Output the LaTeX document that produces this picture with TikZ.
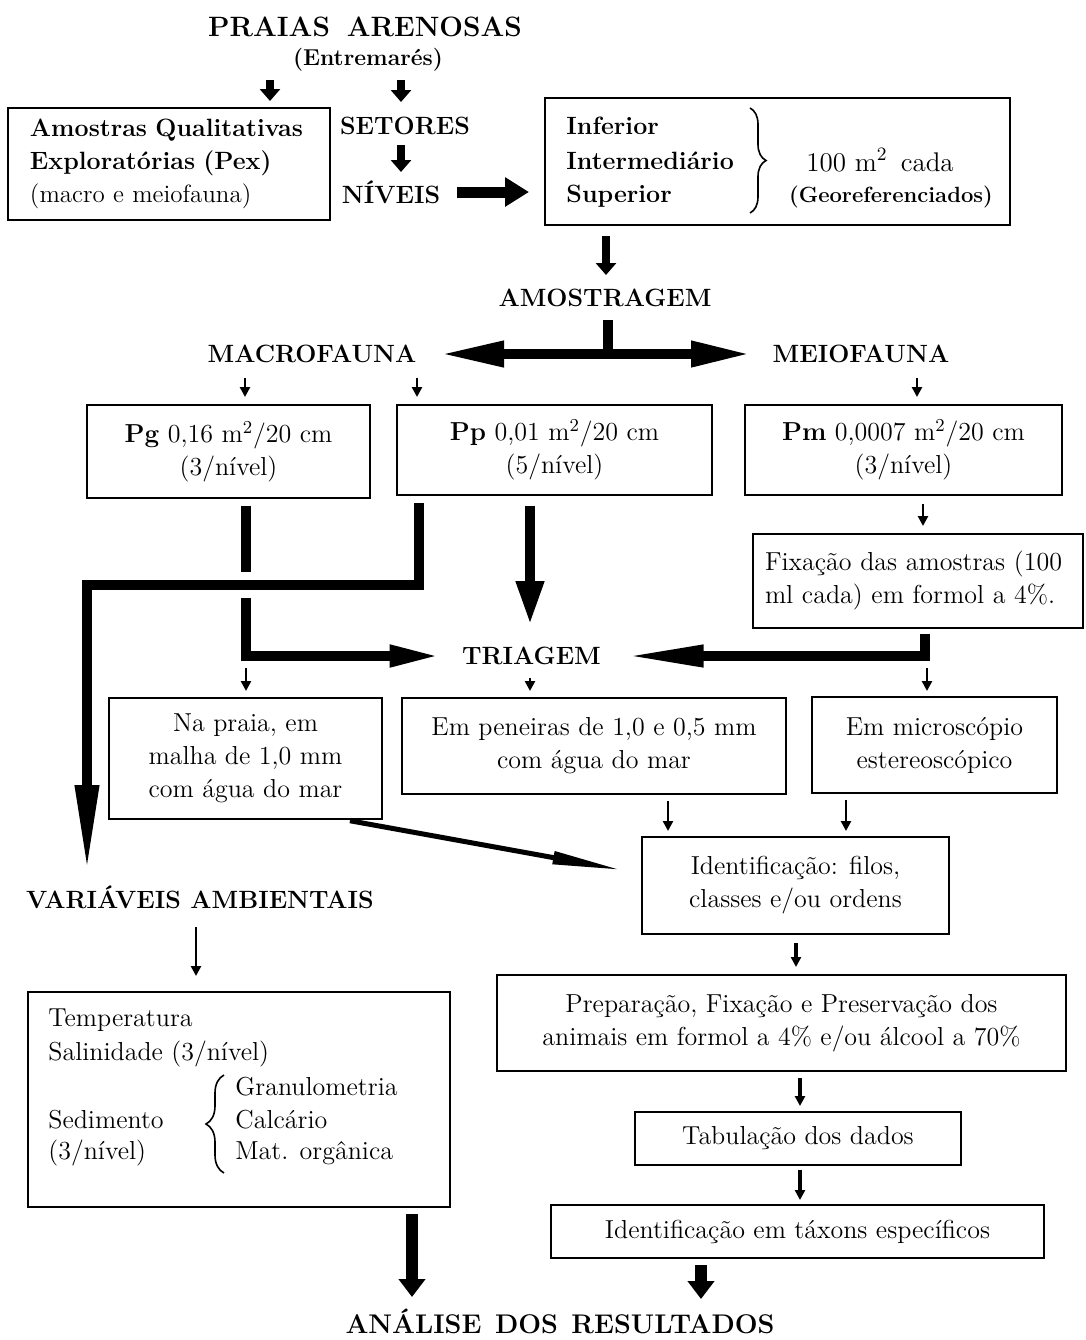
\documentclass[tikz,border=0pt]{standalone}
\usepackage{tikz}
\usetikzlibrary{arrows.meta,positioning,calc,decorations.pathreplacing}
\newcommand{\corpo}{\fontsize{13}{16.5}\selectfont}
\newcommand{\cabeca}{\fontsize{12.5}{15}\selectfont\bfseries}
\newcommand{\grande}{\fontsize{13.5}{16}\selectfont\bfseries}

\tikzset{
  caixa/.style={draw, line width=1pt, align=center, font=\corpo, inner sep=0pt},
  rotulo/.style={font=\cabeca, inner sep=0pt},
  texto/.style={font=\corpo, inner sep=0pt, anchor=west},
  fina/.style={line width=1.3pt, -{Triangle[length=5pt,width=5pt]}},
  bloco/.style={line width=4pt, -{Triangle[length=6pt,width=10pt]}},
  grossa/.style={line width=5pt, line join=miter, -{Triangle[length=26pt,width=10pt]}},
  chave/.style={decorate, decoration={brace, amplitude=#1}, line width=0.8pt},
}

\begin{document}
\begin{tikzpicture}[x=0.5pt, y=-0.5pt]
\useasboundingbox (0,0) rectangle (1086,1340);
%%% Praias, setores e niveis
\node[rotulo, font=\fontsize{14}{16}\selectfont\bfseries] (praias) at (365,27) {PRAIAS\hspace{0.6em}ARENOSAS};
\node[rotulo, font=\fontsize{11.5}{14}\selectfont\bfseries] (entre) at (368,60) {(Entremarés)};
\node[caixa, font=\fontsize{12.5}{16.5}\selectfont, text width=139pt, align=left, inner xsep=11pt, minimum height=56pt] (pex) at (169,164)
  {\textbf{Amostras Qualitativas}\\ \textbf{Exploratórias (Pex)}\\ (macro e meiofauna)};
\node[rotulo] (setores) at (405,126) {SETORES};
\node[rotulo] (niveis) at (391,192) {NÍVEIS};
\node[caixa, minimum width=232.5pt, minimum height=63.5pt] (nivbox) at (777.5,161.5) {};
\node[texto, font=\fontsize{12.5}{15}\selectfont\bfseries] (inf) at (566,126) {Inferior};
\node[texto, font=\fontsize{12.5}{15}\selectfont\bfseries] (inter) at (566,161) {Intermediário};
\node[texto, font=\fontsize{12.5}{15}\selectfont\bfseries] (sup) at (566,196) {Superior};
\coordinate (chsup) at (750,108);
\coordinate (chinf) at (750,213);
\draw[chave=8pt] (chsup) -- (chinf);
\node[font=\fontsize{13.5}{16}\selectfont, inner sep=0pt] (area) at (880,160) {100 m\textsuperscript{2}\, cada};
\node[font=\fontsize{11}{13}\selectfont\bfseries, inner sep=0pt] (geo) at (891,197) {(Georeferenciados)};
%
\draw[bloco, shorten <=10pt, shorten >=3pt] (entre -| 270,0) -- (pex.north -| 270,0);
\draw[bloco, shorten <=10pt, shorten >=12pt] (entre -| 401,0) -- (setores -| 401,0);
\draw[bloco, shorten <=9.5pt, shorten >=10pt] (setores -| 401,0) -- (niveis -| 401,0);
\draw[line width=5.5pt, -{Triangle[length=12pt,width=14pt]}, shorten <=8pt, shorten >=7.5pt] (niveis.east) -- (nivbox.west |- niveis.east);
%%% Amostragem
\node[rotulo] (amost) at (605,298) {AMOSTRAGEM};
\node[rotulo] (macro) at (312,354) {MACROFAUNA};
\node[rotulo] (meio) at (861,354) {MEIOFAUNA};
\draw[bloco, shorten <=5pt, shorten >=11.5pt] (nivbox.south -| 606,0) -- (amost -| 606,0);
\draw[line width=5pt, shorten <=11pt] (amost -| 608,0) -- (macro -| 608,0);
\draw[line width=5pt, {Triangle[length=32pt,width=12pt]}-{Triangle[length=30pt,width=12pt]},
  shorten <=64pt, shorten >=55pt] (macro.center) -- (meio.center);
%%% Amostradores
\node[caixa, minimum width=141.5pt, minimum height=46.5pt] (pg) at (228.5,451.5) {\textbf{Pg} 0,16 m\textsuperscript{2}/20 cm\\(3/nível)};
\node[caixa, minimum width=157.5pt, minimum height=45pt] (pp) at (554.5,450) {\textbf{Pp} 0,01 m\textsuperscript{2}/20 cm\\(5/nível)};
\node[caixa, minimum width=158.5pt, minimum height=45pt] (pm) at (903.5,450) {\textbf{Pm} 0,0007 m\textsuperscript{2}/20 cm\\(3/nível)};
\draw[fina, shorten <=12pt, shorten >=3.5pt] (macro -| 245,0) -- (pg.north -| 245,0);
\draw[fina, shorten <=12pt, shorten >=3.5pt] (macro -| 417,0) -- (pp.north -| 417,0);
\draw[fina, shorten <=12pt, shorten >=3.5pt] (meio -| 917,0) -- (pm.north -| 917,0);
\node[caixa, text width=153pt, align=left, inner xsep=6pt, minimum height=47pt] (fix) at (918,581)
  {Fixação das amostras (100\\ ml cada) em formol a 4\%.};
\draw[fina, shorten <=4pt, shorten >=3.5pt] (pm.south -| 923,0) -- (fix.north -| 923,0);
%%% Triagem
\node[rotulo] (triagem) at (531.5,656) {TRIAGEM};
\node[rotulo] (variaveis) at (200,897) {VARIÁVEIS AMBIENTAIS};
\draw[grossa, shorten <=3.5pt, shorten >=45pt] (pg.south -| 246,0) |- (triagem.center);
\coordinate (dobra) at (87,585);
\draw[grossa, -{Triangle[length=44pt,width=11pt]}, shorten <=3.5pt, shorten >=12pt,
  preaction={draw=white, line width=13pt, -}] (pp.south -| 419,0) |- (dobra) -- (variaveis -| dobra);
\draw[line width=5pt, -{Triangle[length=22pt,width=13pt]}, shorten <=5pt, shorten >=15.5pt] (pp.south -| 530,0) -- (triagem -| 530,0);
\draw[grossa, -{Triangle[length=40pt,width=10pt]}, shorten <=2.5pt, shorten >=46pt] (fix.south -| 925,0) |- (triagem.center);
\node[caixa, minimum width=136.5pt, minimum height=60.5pt] (praia) at (245.5,758.5) {Na praia, em\\ malha de 1,0 mm\\ com água do mar};
\node[caixa, minimum width=192pt, minimum height=48pt] (peneira) at (594,746) {Em peneiras de 1,0 e 0,5 mm\\ com água do mar};
\node[caixa, minimum width=122.5pt, minimum height=48pt] (micro) at (934.5,745) {Em microscópio\\ estereoscópico};
\draw[fina, shorten <=6pt, shorten >=3pt] (triagem -| 246,0) -- (praia.north -| 246,0);
\draw[fina, shorten <=11pt, shorten >=3pt] (triagem -| 530,0) -- (peneira.north -| 530,0);
\draw[fina, shorten <=6pt, shorten >=2.5pt] (triagem -| 927,0) -- (micro.north -| 927,0);
%%% Identificacao e tratamento
\node[caixa, minimum width=153.5pt, minimum height=48.5pt] (ident) at (795.5,885.5) {Identificação: filos,\\ classes e/ou ordens};
\draw[fina, shorten <=3pt, shorten >=2.5pt] (peneira.south -| 668,0) -- (ident.north -| 668,0);
\draw[fina, shorten <=3pt, shorten >=2.5pt] (micro.south -| 846,0) -- (ident.north -| 846,0);
\draw[line width=2.5pt, -{Triangle[length=35pt,width=6pt]}, shorten <=2pt, shorten >=9.5pt] (praia.south -| 346,0) -- ([yshift=6pt]ident.west);
\node[caixa, minimum width=284.5pt, minimum height=48pt] (prep) at (781.5,1023) {Preparação, Fixação e Preservação dos\\ animais em formol a 4\% e/ou álcool a 70\%};
\node[caixa, minimum width=163pt, minimum height=26.5pt] (tab) at (798,1138.5) {Tabulação dos dados};
\node[caixa, minimum width=246.5pt, minimum height=26.5pt] (taxon) at (797.5,1231.5) {Identificação em táxons específicos};
\draw[fina, line width=1.7pt, shorten <=4pt, shorten >=3.5pt] (ident.south -| 796,0) -- (prep.north -| 796,0);
\draw[fina, line width=1.7pt, shorten <=3pt, shorten >=2.5pt] (prep.south -| 800,0) -- (tab.north -| 800,0);
\draw[fina, line width=1.7pt, shorten <=2pt, shorten >=2pt] (tab.south -| 800,0) -- (taxon.north -| 800,0);
%%% Variaveis ambientais
\node[caixa, minimum width=211pt, minimum height=107.5pt] (temp) at (239,1099.5) {};
\node[texto] (tempe) at (48,1020) {Temperatura};
\node[texto] (sal) at (48,1054) {Salinidade (3/nível)};
\node[texto] (sedi) at (48,1120) {Sedimento};
\node[texto] (sedn) at (48,1153) {(3/nível)};
\node[texto] (gran) at (235,1087) {Granulometria};
\node[texto] (calc) at (235,1120) {Calcário};
\node[texto] (mat) at (235,1153) {Mat. orgânica};
\coordinate (chb) at (224,1173);
\coordinate (cht) at (224,1075);
\draw[chave=9pt] (chb) -- (cht);
\draw[fina, shorten <=15pt, shorten >=7.5pt] (variaveis -| 196,0) -- (temp.north -| 196,0);
%%% Analise
\node[rotulo, font=\grande] (analise) at (560,1321) {ANÁLISE\hspace{0.5em}DOS\hspace{0.5em}RESULTADOS};
\draw[line width=6pt, -{Triangle[length=9pt,width=13pt]}, shorten <=3pt, shorten >=12pt] (temp.south -| 412,0) -- (analise -| 412,0);
\draw[line width=6pt, -{Triangle[length=9pt,width=13pt]}, shorten <=3pt, shorten >=11pt] (taxon.south -| 701,0) -- (analise -| 701,0);
\end{tikzpicture}
\end{document}
